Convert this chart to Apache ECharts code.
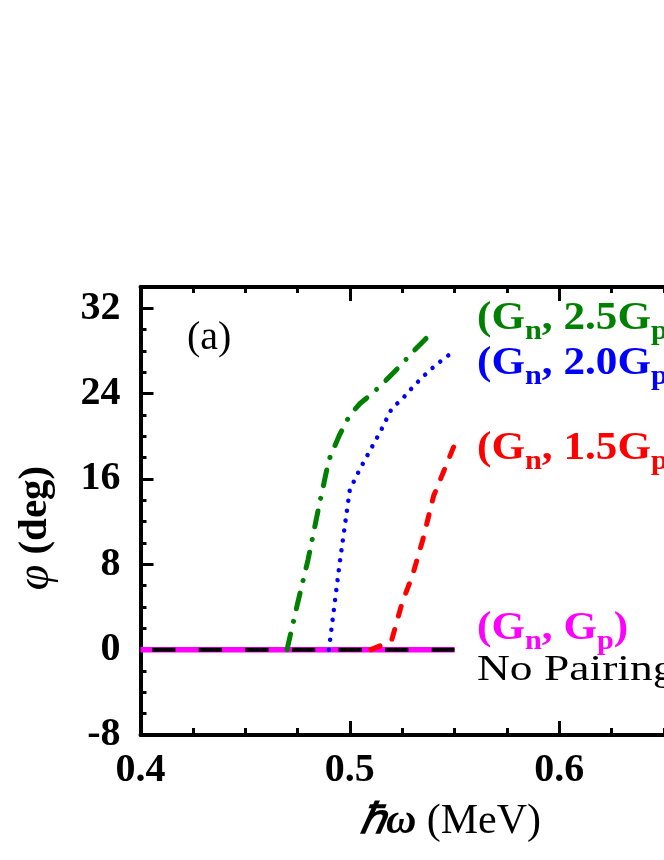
<!DOCTYPE html>
<html>
<head>
<meta charset="utf-8">
<script src="https://cdn.jsdelivr.net/npm/echarts@6/dist/echarts.min.js"></script>
<style>
  html, body { margin: 0; padding: 0; background: #fff; }
</style>
</head>
<body>
<div id="phase" style="width: 664px; height: 860px"></div>
<script>
// rotational frequency (MeV) and tilt angle phi (deg)
const omegaGreen = [0.47, 0.475, 0.48, 0.485, 0.49, 0.495, 0.50, 0.505, 0.51, 0.515, 0.52, 0.525, 0.53, 0.535, 0.54];
const phiGreen = [0, 4.3, 8.4, 13.2, 17.8, 20.1, 22.0, 23.1, 23.9, 24.8, 25.8, 26.8, 27.9, 28.9, 29.9];

const omegaBlue = [0.49, 0.495, 0.50, 0.505, 0.51, 0.515, 0.52, 0.525, 0.53, 0.535, 0.54, 0.545, 0.55];
const phiBlue = [0, 7.9, 15.0, 17.0, 18.8, 20.6, 22.6, 23.5, 24.6, 25.6, 26.5, 27.3, 28.0];

const omegaRed = [0.51, 0.515, 0.52, 0.525, 0.53, 0.535, 0.54, 0.545, 0.55];
const phiRed = [0, 0.4, 0.9, 4.4, 7.0, 10.4, 14.4, 16.8, 19.2];

const omegaZero = [0.4, 0.55];
const phiMagenta = [0, 0];
const phiBlack = [0, 0];

const xTicks = [0.4, 0.5, 0.6, 0.7];
const yTicks = [-8, 0, 8, 16, 24, 32];

const serif = "Liberation Serif";

function pairs(xs, ys) {
  return xs.map((x, i) => [x, ys[i]]);
}

// rich text for "(Gn, cGp)" with subscripts
function gLabel(coef) {
  return "{b|(G}{s|n}{b|, " + coef + "G}{s|p}{b|)}";
}
function gRich(color) {
  return {
    b: { fontFamily: serif, fontWeight: "bold", fontSize: 40, lineHeight: 40, padding: [0, 0, 7, 0], verticalAlign: "bottom", fill: color },
    s: { fontFamily: serif, fontWeight: "bold", fontSize: 28, lineHeight: 28, verticalAlign: "bottom", fill: color },
  };
}

var chartDom = document.getElementById("phase");
var myChart = echarts.init(chartDom);
var option;

var axisLine = { onZero: false, lineStyle: { color: "#000", width: 4 } };

option = {
  animation: false,
  backgroundColor: "#fff",
  // the frame runs on past the right edge of the picture (to 0.7)
  grid: { left: 140.5, top: 287, width: 628, height: 448, outerBoundsMode: "none", containLabel: false },
  xAxis: [
    {
      type: "value",
      position: "bottom",
      min: xTicks[0],
      max: xTicks[xTicks.length - 1],
      interval: 0.1,
      axisLine: axisLine,
      axisTick: { inside: true, length: 14, lineStyle: { color: "#000", width: 3 } },
      minorTick: { show: true, splitNumber: 4, length: 7, lineStyle: { color: "#000", width: 3 } },
      splitLine: { show: false },
      axisLabel: {
        margin: 16,
        fontFamily: serif,
        fontWeight: "bold",
        fontSize: 40,
        color: "#000",
        formatter: (v) => v.toFixed(1),
      },
      name: "{i|ℏω}{r| (MeV)}",
      nameLocation: "middle",
      nameGap: 66,
      nameTextStyle: {
        padding: [0, 8, 0, 0],
        rich: {
          i: { fontFamily: serif, fontStyle: "italic", fontWeight: "bold", fontSize: 42, color: "#000" },
          r: { fontFamily: serif, fontSize: 42, color: "#000" },
        },
      },
    },
    {
      type: "value",
      position: "top",
      min: xTicks[0],
      max: xTicks[xTicks.length - 1],
      interval: 0.1,
      axisLine: axisLine,
      axisTick: { inside: true, length: 14, lineStyle: { color: "#000", width: 3 } },
      minorTick: { show: true, splitNumber: 4, length: 6, lineStyle: { color: "#000", width: 3 } },
      splitLine: { show: false },
      axisLabel: { show: false },
    },
  ],
  yAxis: [
    {
      type: "value",
      position: "left",
      min: yTicks[0],
      max: 34,
      interval: 8,
      axisLine: axisLine,
      axisTick: { inside: true, length: 13, lineStyle: { color: "#000", width: 3 } },
      splitLine: { show: false },
      axisLabel: {
        margin: 20,
        showMaxLabel: false,
        fontFamily: serif,
        fontWeight: "bold",
        fontSize: 40,
        color: "#000",
      },
      name: "{i|φ}{b| (deg)}",
      nameLocation: "middle",
      nameRotate: 90,
      nameGap: 82,
      nameTextStyle: {
        padding: [0, 34, 0, 0],
        rich: {
          i: { fontFamily: serif, fontStyle: "italic", fontSize: 46, color: "#000" },
          b: { fontFamily: serif, fontWeight: "bold", fontSize: 41, color: "#000" },
        },
      },
    },
    {
      // minor ticks every 2 deg
      type: "value",
      position: "left",
      min: yTicks[0],
      max: 34,
      interval: 2,
      axisLine: { show: false, onZero: false },
      axisTick: { inside: true, length: 6, lineStyle: { color: "#000", width: 3 } },
      splitLine: { show: false },
      axisLabel: { show: false },
    },
  ],
  graphic: [
    {
      type: "text",
      x: 187,
      y: 338,
      style: { text: "(a)", fontFamily: serif, fontSize: 40, fill: "#000", verticalAlign: "middle" },
    },
    {
      type: "text",
      x: 477,
      y: 326,
      scaleX: 1.08,
      style: { text: gLabel("2.5"), rich: gRich("#008000"), verticalAlign: "middle" },
    },
    {
      type: "text",
      x: 477,
      y: 371,
      scaleX: 1.08,
      style: { text: gLabel("2.0"), rich: gRich("#0000ff"), verticalAlign: "middle" },
    },
    {
      type: "text",
      x: 477,
      y: 456,
      scaleX: 1.08,
      style: { text: gLabel("1.5"), rich: gRich("#ff0000"), verticalAlign: "middle" },
    },
    {
      type: "text",
      x: 477,
      y: 636,
      scaleX: 1.08,
      style: { text: "{b|(G}{s|n}{b|, G}{s|p}{b|)}", rich: gRich("#ff00ff"), verticalAlign: "middle" },
    },
    {
      type: "text",
      x: 477,
      y: 671,
      scaleX: 1.3,
      style: { text: "No Pairing", fontFamily: serif, fontSize: 35, fill: "#000", verticalAlign: "middle" },
    },
  ],
  series: [
    {
      name: "(Gn, Gp)",
      type: "line",
      showSymbol: false,
      data: pairs(omegaZero, phiMagenta),
      lineStyle: { color: "#ff00ff", width: 5.5 },
      z: 2,
    },
    {
      name: "No Pairing",
      type: "line",
      showSymbol: false,
      data: pairs(omegaZero, phiBlack),
      lineStyle: { color: "#000", width: 4, type: [23.3, 23.3], dashOffset: 35 },
      z: 3,
    },
    {
      name: "(Gn, 1.5Gp)",
      type: "line",
      showSymbol: false,
      data: pairs(omegaRed, phiRed),
      lineStyle: { color: "#ff0000", width: 5, type: [10, 14], cap: "round" },
      z: 4,
    },
    {
      name: "(Gn, 2.0Gp)",
      type: "line",
      showSymbol: false,
      data: pairs(omegaBlue, phiBlue),
      lineStyle: { color: "#0000ff", width: 4.5, type: [0.01, 10], cap: "round" },
      z: 4,
    },
    {
      name: "(Gn, 2.5Gp)",
      type: "line",
      showSymbol: false,
      data: pairs(omegaGreen, phiGreen),
      lineStyle: { color: "#008000", width: 5, type: [16, 13, 0.01, 13], cap: "round" },
      z: 4,
    },
  ],
};

option && myChart.setOption(option);
</script>
</body>
</html>
